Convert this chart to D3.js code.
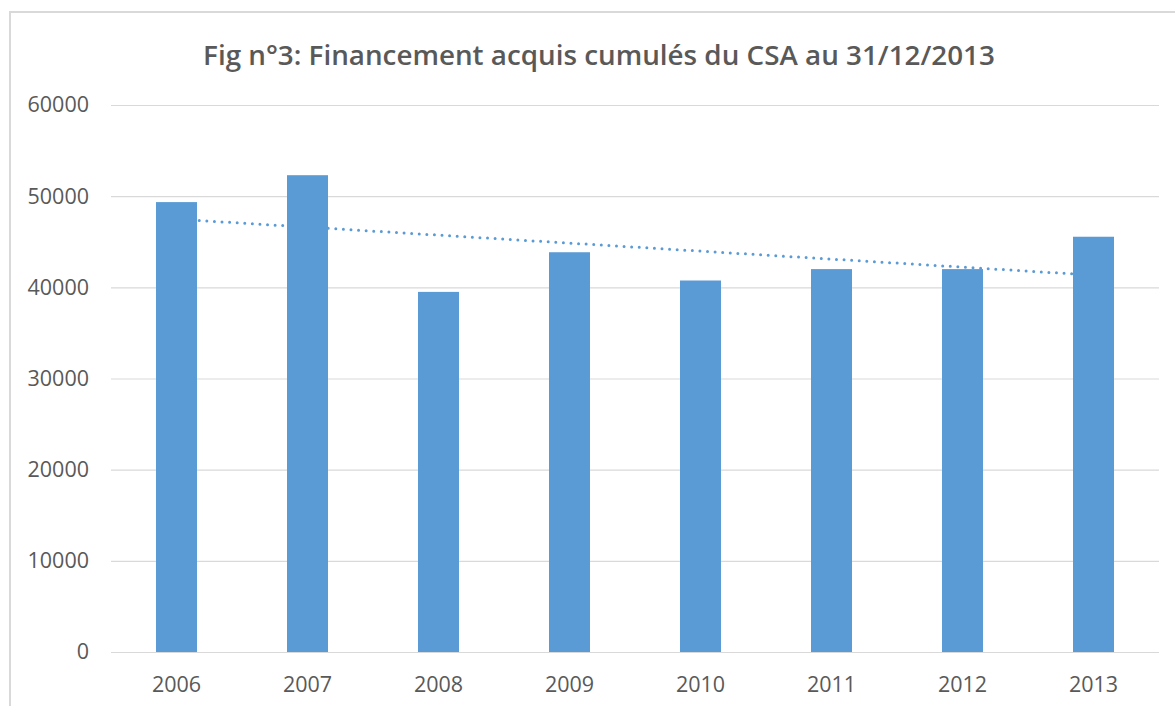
<!DOCTYPE html>
<html>
<head>
<meta charset="utf-8">
<script src="https://cdn.jsdelivr.net/npm/d3@7"></script>
<style>
  html, body { margin: 0; padding: 0; background: #fff; }
  svg { display: block; }
</style>
</head>
<body>
<svg width="1175" height="706"></svg>
<script>
// data
var years = ["2006", "2007", "2008", "2009", "2010", "2011", "2012", "2013"];
var values = [49350, 52300, 39500, 43850, 40750, 42000, 42000, 45550];
var yTicks = [0, 10000, 20000, 30000, 40000, 50000, 60000];
var title = "Fig n°3: Financement acquis cumulés du CSA au 31/12/2013";

(function () {
  var svg = d3.select("svg"),
    x0 = 111, x1 = 1159, y0 = 652, y1 = 105,
    font = "'Open Sans', 'Noto Sans', sans-serif",
    grey = "#595959",
    blue = "#5b9bd5";

  // chart area border (runs off the right and bottom of the picture)
  svg.append("rect")
    .attr("x", 10).attr("y", 12)
    .attr("width", 1300).attr("height", 900)
    .attr("fill", "#fff")
    .attr("stroke", "#d9d9d9")
    .attr("stroke-width", 2);

  var x = d3.scaleBand()
    .domain(years)
    .range([x0, x1])
    .paddingInner(0.687)
    .paddingOuter(0.3435);

  var y = d3.scaleLinear()
    .domain([0, 60000])
    .range([y0, y1]);

  // title, sized to the width it takes in the reference
  var t = svg.append("text")
    .attr("x", 599)
    .attr("y", 65)
    .attr("text-anchor", "middle")
    .attr("font-family", font)
    .attr("font-weight", 600)
    .attr("font-size", 28)
    .attr("fill", grey)
    .text(title);
  var len = t.node().getComputedTextLength();
  if (len > 0) t.attr("font-size", 28 * 792 / len);

  // gridlines + y labels
  var yAxis = svg.append("g")
    .attr("transform", "translate(" + x0 + ",0)")
    .call(d3.axisLeft(y).tickValues(yTicks).tickSize(-(x1 - x0)).tickPadding(22).tickFormat(d3.format("d")));

  yAxis.select(".domain").remove();
  yAxis.selectAll(".tick line")
    .attr("stroke", "#d9d9d9")
    .attr("stroke-width", 1.2);
  yAxis.selectAll(".tick text")
    .attr("font-family", font)
    .attr("font-size", 21.5)
    .attr("fill", grey);

  // x labels
  var xAxis = svg.append("g")
    .attr("transform", "translate(0," + y0 + ")")
    .call(d3.axisBottom(x).tickSize(0).tickPadding(0));

  xAxis.select(".domain").remove();
  xAxis.selectAll(".tick text")
    .attr("dy", null)
    .attr("y", 40)
    .attr("font-family", font)
    .attr("font-size", 21.5)
    .attr("fill", grey);

  // linear trend line (least squares on the bars)
  var n = values.length,
    mx = d3.mean(values, function (d, i) { return i + 1; }),
    my = d3.mean(values),
    sxy = d3.sum(values, function (d, i) { return (i + 1 - mx) * (d - my); }),
    sxx = d3.sum(values, function (d, i) { return (i + 1 - mx) * (i + 1 - mx); }),
    slope = sxy / sxx,
    icpt = my - slope * mx;

  var trend = [years[0], years[n - 1]].map(function (yr) {
    var k = years.indexOf(yr) + 1;
    return [x(yr) + x.bandwidth() / 2, y(icpt + slope * k)];
  });

  svg.append("path")
    .attr("d", d3.line()(trend))
    .attr("fill", "none")
    .attr("stroke", blue)
    .attr("stroke-width", 3)
    .attr("stroke-linecap", "round")
    .attr("stroke-dasharray", "0,7.6");

  // bars
  svg.append("g")
    .selectAll("rect")
    .data(values)
    .enter().append("rect")
    .attr("x", function (d, i) { return x(years[i]); })
    .attr("y", function (d) { return y(d); })
    .attr("width", x.bandwidth())
    .attr("height", function (d) { return y(0) - y(d); })
    .attr("fill", blue);
})();
</script>
</body>
</html>
